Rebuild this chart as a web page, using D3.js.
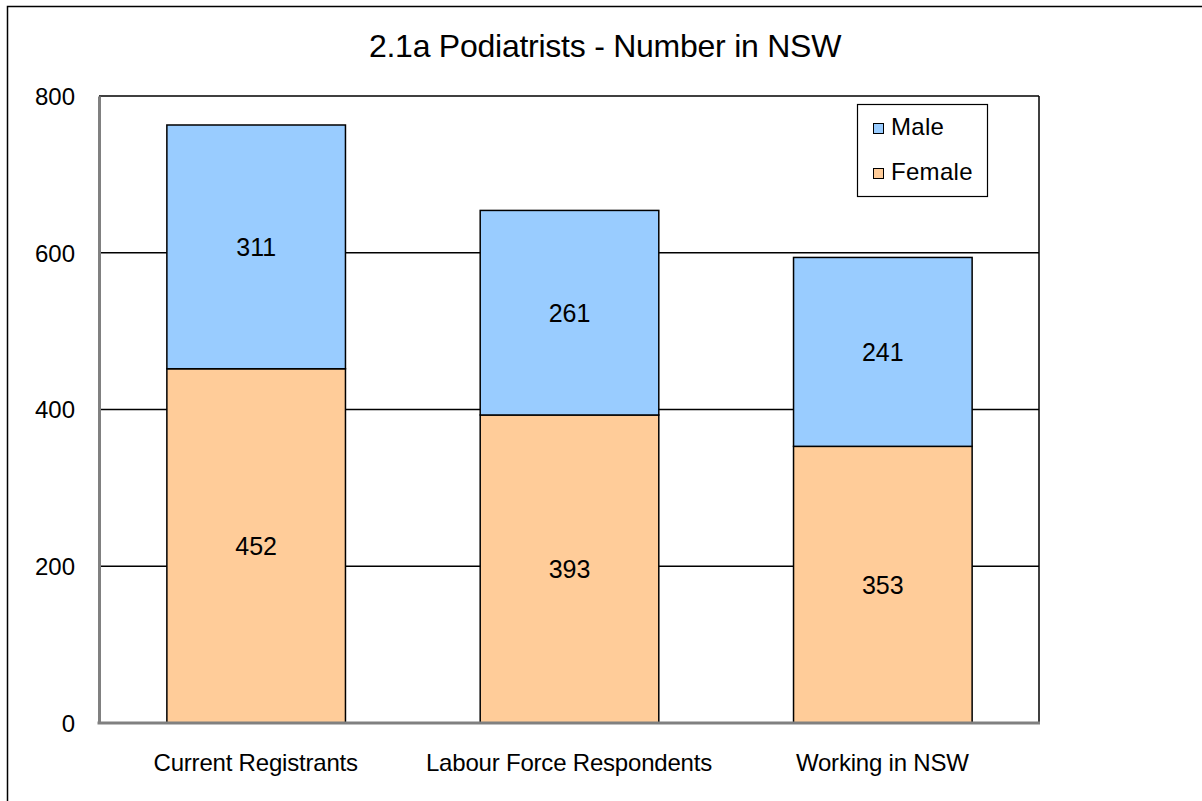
<!DOCTYPE html>
<html><head><meta charset="utf-8">
<script src="https://cdn.jsdelivr.net/npm/d3@7"></script>
<style>body{margin:0;background:#fff}svg{display:block}text{font-family:"Liberation Sans",Arial,sans-serif;fill:#000}</style>
</head><body><svg id="c" width="1202" height="801"></svg>
<script>
const categories = ["Current Registrants", "Labour Force Respondents", "Working in NSW"];
const female = [452, 393, 353];
const male = [311, 261, 241];
const yTicks = [0, 200, 400, 600, 800];
const seriesNames = ["Male", "Female"];
const colors = {Male: "#99CCFF", Female: "#FFCC99"};

const svg = d3.select("#c");
const L = 99, T = 96, R = 1039, B = 723;

svg.append("rect").attr("x", 7.5).attr("y", 6.5).attr("width", 1300).attr("height", 900)
  .attr("fill", "none").attr("stroke", "#000").attr("stroke-width", 1.5);

svg.append("text").attr("x", 605).attr("y", 57).attr("text-anchor", "middle")
  .attr("font-size", 32).attr("letter-spacing", -0.25).text("2.1a Podiatrists - Number in NSW");

const x = d3.scaleBand().domain(categories).range([L, R]).paddingInner(0.43).paddingOuter(0.215);
const y = d3.scaleLinear().domain([0, 800]).range([B, T]);

// gridlines
svg.append("g").selectAll("line").data(yTicks.filter(d => d > 0)).join("line")
  .attr("x1", L).attr("x2", R).attr("y1", d => y(d)).attr("y2", d => y(d))
  .attr("stroke", "#000").attr("stroke-width", 1.5);
// right border
svg.append("line").attr("x1", R).attr("x2", R).attr("y1", T).attr("y2", B).attr("stroke", "#000").attr("stroke-width", 1.5);

const data = categories.map((c, i) => ({cat: c, Female: female[i], Male: male[i]}));
const stack = d3.stack().keys(["Female", "Male"])(data);

const g = svg.append("g");
stack.forEach(s => {
  g.selectAll(null).data(s).join("rect")
    .attr("x", d => x(d.data.cat) + 0.5).attr("width", x.bandwidth())
    .attr("y", d => y(d[1])).attr("height", d => y(d[0]) - y(d[1]))
    .attr("fill", colors[s.key]).attr("stroke", "#000").attr("stroke-width", 1.5);
  g.selectAll(null).data(s).join("text")
    .attr("x", d => x(d.data.cat) + x.bandwidth() / 2 + 0.5)
    .attr("y", d => (y(d[0]) + y(d[1])) / 2 + 9)
    .attr("text-anchor", "middle").attr("font-size", 25)
    .text(d => d[1] - d[0]);
});

// axes (left and bottom gray)
const yAxis = d3.axisLeft(y).tickValues(yTicks).tickSize(0).tickPadding(24);
const ya = svg.append("g").attr("transform", `translate(${L},0)`).call(yAxis);
ya.select(".domain").attr("stroke", "#808080").attr("stroke-width", 3);
ya.selectAll("text").attr("font-size", 24).attr("font-family", '"Liberation Sans",Arial,sans-serif').attr("dy", "0.35em");

const xAxis = d3.axisBottom(x).tickSize(0).tickPadding(31);
const xa = svg.append("g").attr("transform", `translate(0,${B})`).call(xAxis);
xa.select(".domain").attr("stroke", "#808080").attr("stroke-width", 3).attr("d", `M${L - 1.5},0H${R + 1}`);
xa.selectAll("text").attr("font-size", 24).attr("font-family", '"Liberation Sans",Arial,sans-serif').attr("letter-spacing", -0.2);

// legend
const lg = svg.append("g");
lg.append("rect").attr("x", 857.5).attr("y", 104.5).attr("width", 130).attr("height", 92)
  .attr("fill", "#fff").attr("stroke", "#000").attr("stroke-width", 1.2);
seriesNames.forEach((n, i) => {
  const yy = 128.5 + i * 45;
  lg.append("rect").attr("x", 873.5).attr("y", yy - 5).attr("width", 10).attr("height", 10)
    .attr("fill", colors[n]).attr("stroke", "#000").attr("stroke-width", 1);
  lg.append("text").attr("x", 891).attr("y", yy + 6.5).attr("font-size", 24).attr("letter-spacing", 0.3).text(n);
});
</script></body></html>
